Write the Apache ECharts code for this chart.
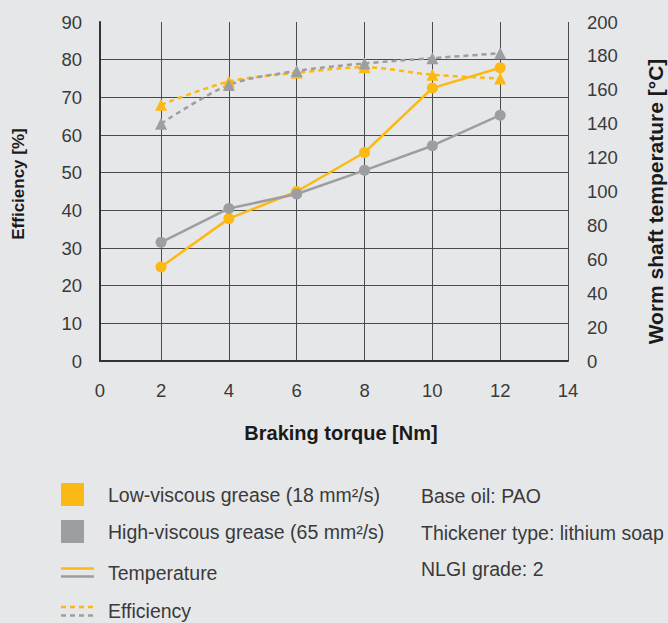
<!DOCTYPE html>
<html>
<head>
<meta charset="utf-8">
<script src="https://cdn.jsdelivr.net/npm/echarts@6/dist/echarts.min.js"></script>
<style>
html,body{margin:0;padding:0;background:#e6e7e9;}
#chart{width:668px;height:623px;}
</style>
</head>
<body>
<div id="chart"></div>
<script>
const torque = [2, 4, 6, 8, 10, 12];
const tempLow = [55.5, 84, 100, 123, 161, 173];
const tempHigh = [70, 90, 98.5, 112.5, 127, 145];
const effLow = [68, 74.2, 76.5, 78, 76, 75];
const effHigh = [63, 73.3, 77, 79, 80.4, 81.7];
const leftTicks = {min: 0, max: 90, interval: 10};
const rightTicks = {min: 0, max: 200, interval: 20};
const legendNames = ['Low-viscous grease (18 mm²/s)', 'High-viscous grease (65 mm²/s)', 'Temperature', 'Efficiency'];
const notes = ['Base oil: PAO', 'Thickener type: lithium soap', 'NLGI grade: 2'];

const YEL = '#fdb913', GRY = '#9d9ea1';
const FONT = 'Liberation Sans, Arial, sans-serif';
const TXT = '#3a3a3a';

const pairs = (xs, ys) => xs.map((x, i) => [x, ys[i]]);

const chart = echarts.init(document.getElementById('chart'), null, {renderer: 'svg'});

const legendY = [494.5, 531.5, 573, 611];
const graphic = [
  {type: 'rect', shape: {x: 61, y: 483, width: 23, height: 23}, style: {fill: YEL}},
  {type: 'rect', shape: {x: 61, y: 520, width: 23, height: 23}, style: {fill: GRY}},
  {type: 'line', shape: {x1: 61, y1: 568.5, x2: 94, y2: 568.5}, style: {stroke: YEL, lineWidth: 2.5}},
  {type: 'line', shape: {x1: 61, y1: 576.5, x2: 94, y2: 576.5}, style: {stroke: GRY, lineWidth: 2.5}},
  {type: 'line', shape: {x1: 61, y1: 607, x2: 94, y2: 607}, style: {stroke: YEL, lineWidth: 2.5, lineDash: [5, 4]}},
  {type: 'line', shape: {x1: 61, y1: 615.5, x2: 94, y2: 615.5}, style: {stroke: GRY, lineWidth: 2.5, lineDash: [5, 4]}}
];
legendNames.forEach((t, i) => graphic.push({
  type: 'text', x: 108, y: legendY[i],
  style: {text: t, fill: TXT, font: '19.5px ' + FONT, textVerticalAlign: 'middle'}
}));
notes.forEach((t, i) => graphic.push({
  type: 'text', x: 421, y: [496, 533, 569][i],
  style: {text: t, fill: TXT, font: '19.5px ' + FONT, textVerticalAlign: 'middle'}
}));

const lineSeries = (name, data, color, yIdx, dashed) => ({
  name: name, type: 'line', data: data, yAxisIndex: yIdx,
  symbol: dashed ? 'triangle' : 'circle', symbolSize: dashed ? 12 : 11,
  smooth: dashed ? 0.3 : false,
  lineStyle: {color: color, width: 2.5, type: dashed ? [5, 4] : 'solid'},
  itemStyle: {color: color},
  emphasis: {disabled: true}, animation: false
});

chart.setOption({
  backgroundColor: '#e6e7e9',
  animation: false,
  textStyle: {fontFamily: FONT},
  grid: {left: 100, right: 100, top: 22, bottom: 262, containLabel: false, outerBoundsMode: 'none'},
  graphic: graphic,
  xAxis: {
    type: 'value', min: 0.2, max: 14, splitNumber: 7, minInterval: 2, maxInterval: 2,
    name: 'Braking torque [Nm]', nameLocation: 'middle', nameGap: 62,
    nameTextStyle: {fontSize: 20, fontWeight: 'bold', color: '#1a1a1a', fontFamily: FONT, padding: [0, 0, 0, 14]},
    axisLine: {show: true, onZero: false, lineStyle: {color: '#333', width: 2}},
    axisTick: {show: false},
    axisLabel: {color: TXT, fontSize: 18.5, margin: 20, formatter: v => String(Math.round(v))},
    splitLine: {show: true, lineStyle: {color: '#4a4a4a', width: 1}}
  },
  yAxis: [{
    type: 'value', min: leftTicks.min, max: leftTicks.max, interval: leftTicks.interval,
    name: 'Efficiency [%]', nameLocation: 'middle', nameGap: 73, nameRotate: 90,
    nameTextStyle: {fontSize: 17, fontWeight: 'bold', color: '#1a1a1a', fontFamily: FONT, padding: [0, 0, 0, 15]},
    axisLine: {show: true, lineStyle: {color: '#333', width: 2}},
    axisTick: {show: false},
    axisLabel: {color: TXT, fontSize: 18.5, margin: 18},
    splitLine: {show: true, showMaxLine: false, lineStyle: {color: '#4a4a4a', width: 1}}
  }, {
    type: 'value', position: 'right', min: rightTicks.min, max: rightTicks.max, interval: rightTicks.interval,
    name: 'Worm shaft temperature [°C]', nameLocation: 'middle', nameGap: 77, nameRotate: 90,
    nameTextStyle: {fontSize: 21, fontWeight: 'bold', color: '#1a1a1a', fontFamily: FONT, padding: [0, 20, 0, 0]},
    axisLine: {show: false}, axisTick: {show: false},
    axisLabel: {color: TXT, fontSize: 18.5, margin: 19},
    splitLine: {show: false}
  }],
  series: [
    lineSeries('Low-viscous grease temperature', pairs(torque, tempLow), YEL, 1, false),
    lineSeries('Low-viscous grease efficiency', pairs(torque, effLow), YEL, 0, true),
    lineSeries('High-viscous grease temperature', pairs(torque, tempHigh), GRY, 1, false),
    lineSeries('High-viscous grease efficiency', pairs(torque, effHigh), GRY, 0, true)
  ]
});
</script>
</body>
</html>
